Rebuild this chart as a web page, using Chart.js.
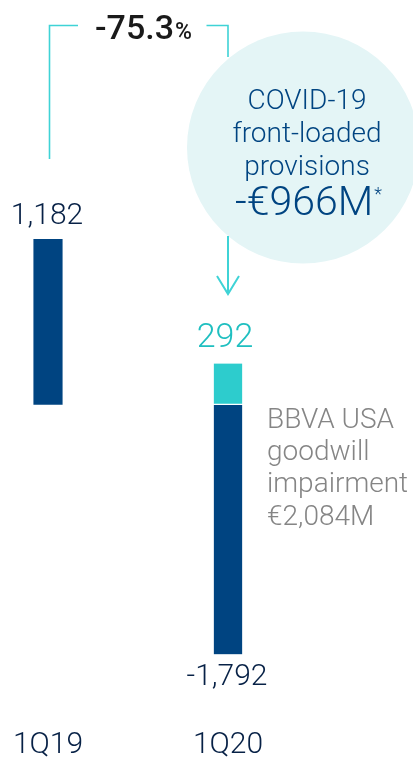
<!DOCTYPE html>
<html>
<head>
<meta charset="utf-8">
<script src="https://cdn.jsdelivr.net/npm/chart.js@4/dist/chart.umd.min.js"></script>
<style>
  html, body { margin: 0; padding: 0; background: #ffffff; }
  #wrap { width: 413px; height: 762px; position: relative; }
</style>
</head>
<body>
<div id="wrap"><canvas id="c" width="413" height="762"></canvas></div>
<script>
// ---- data ----
const categories = ['1Q19', '1Q20'];
const netProfit = [1182, -1792];          // dark navy bars
const excludingGoodwill = [null, 292];    // teal segment
const changeLabel = '-75.3';
const covidLines = ['COVID-19', 'front-loaded', 'provisions'];
const covidAmount = '-€966M';
const goodwillLines = ['BBVA USA', 'goodwill', 'impairment', '€2,084M'];

const NAVY = '#004481';
const DARK = '#072146';
const TEAL = '#2dcccd';
const LINE = '#3fd3d6';
const FONT = 'Roboto, "Open Sans", sans-serif';

const fmt = v => (v < 0 ? '-' : '') + Math.abs(v).toLocaleString('en-US');

const decorPlugin = {
  id: 'decor',
  beforeDatasetsDraw(chart) {
    const ctx = chart.ctx;
    const x = chart.scales.x;
    const x0 = x.getPixelForValue(0);
    const x1 = x.getPixelForValue(1);
    ctx.save();
    // circle
    ctx.fillStyle = '#e4f5f6';
    ctx.beginPath();
    ctx.arc(303, 147.5, 116, 0, Math.PI * 2);
    ctx.fill();
    // bracket
    ctx.strokeStyle = LINE;
    ctx.lineWidth = 1.6;
    ctx.beginPath();
    ctx.moveTo(x0 + 1.5, 159);
    ctx.lineTo(x0 + 1.5, 25.5);
    ctx.lineTo(78, 25.5);
    ctx.moveTo(206.5, 25.5);
    ctx.lineTo(x1, 25.5);
    ctx.lineTo(x1, 57);
    ctx.stroke();
    // arrow
    ctx.lineWidth = 2;
    ctx.beginPath();
    ctx.moveTo(x1, 236);
    ctx.lineTo(x1, 294);
    ctx.moveTo(x1 - 11, 276);
    ctx.lineTo(x1, 294);
    ctx.lineTo(x1 + 11, 276);
    ctx.stroke();
    // -75.3%
    ctx.fillStyle = '#1a1a1a';
    ctx.textBaseline = 'alphabetic';
    ctx.textAlign = 'left';
    ctx.font = '500 34px ' + FONT;
    const w1 = ctx.measureText(changeLabel).width;
    ctx.font = '500 23px ' + FONT;
    const w2 = ctx.measureText('%').width;
    const sx = 143 - (w1 + w2) / 2;
    ctx.font = '500 34px ' + FONT;
    ctx.fillText(changeLabel, sx, 38.5);
    ctx.font = '500 23px ' + FONT;
    ctx.fillText('%', sx + w1 + 1, 38.5);
    // circle text
    ctx.fillStyle = NAVY;
    ctx.textAlign = 'center';
    ctx.font = '300 28px ' + FONT;
    const base = [108.5, 141.5, 175];
    covidLines.forEach((t, i) => ctx.fillText(t, 307, base[i]));
    ctx.font = '300 41px ' + FONT;
    const wa = ctx.measureText(covidAmount).width;
    ctx.font = '300 18px ' + FONT;
    const wb = ctx.measureText('*').width;
    const ax = 308 - (wa + wb) / 2;
    ctx.textAlign = 'left';
    ctx.font = '300 41px ' + FONT;
    ctx.fillText(covidAmount, ax, 215);
    ctx.font = '300 18px ' + FONT;
    ctx.fillText('*', ax + wa + 1, 200);
    // goodwill note
    ctx.fillStyle = '#858585';
    ctx.font = '300 28px ' + FONT;
    ctx.textAlign = 'left';
    const gb = [428, 460, 492, 524.5];
    goodwillLines.forEach((t, i) => ctx.fillText(t, 267, gb[i]));
    ctx.restore();
  },
  afterDatasetsDraw(chart) {
    const ctx = chart.ctx;
    const m0 = chart.getDatasetMeta(0).data;
    const m1 = chart.getDatasetMeta(1).data;
    ctx.save();
    ctx.textAlign = 'center';
    ctx.textBaseline = 'alphabetic';
    // 1Q19 value
    ctx.fillStyle = DARK;
    ctx.font = '300 30px ' + FONT;
    ctx.fillText(fmt(netProfit[0]), m0[0].x - 1, m0[0].y - 15.5);
    // 1Q20 teal value
    ctx.fillStyle = '#1fbfc0';
    ctx.font = '300 34px ' + FONT;
    ctx.fillText(fmt(excludingGoodwill[1]), m1[1].x - 3, m1[1].y - 17);
    // 1Q20 net value
    ctx.fillStyle = DARK;
    ctx.font = '300 30px ' + FONT;
    ctx.fillText(fmt(netProfit[1]), m0[1].x - 1, m0[1].y + 30.5);
    ctx.restore();
  }
};

new Chart(document.getElementById('c'), {
  type: 'bar',
  data: {
    labels: categories,
    datasets: [
      {
        data: netProfit,
        backgroundColor: NAVY,
        barThickness: 28.5,
        clip: false,
        borderWidth: ctx => (ctx.raw < 0 ? { top: 1, right: 0, bottom: 0, left: 0 } : 0),
        borderColor: '#ffffff',
        borderSkipped: false
      },
      {
        data: excludingGoodwill,
        backgroundColor: TEAL,
        barThickness: 28.5,
        clip: false,
        borderWidth: { top: 0, right: 0, bottom: 1, left: 0 },
        borderColor: '#ffffff',
        borderSkipped: false
      }
    ]
  },
  options: {
    responsive: false,
    animation: false,
    events: [],
    layout: { padding: { left: 48, right: 185, top: 125.3, bottom: 0 } },
    plugins: { legend: { display: false }, tooltip: { enabled: false } },
    scales: {
      x: {
        stacked: true,
        offset: false,
        grid: { display: false, drawTicks: false },
        border: { display: false },
        ticks: { color: DARK, padding: 2, font: { family: FONT, size: 30, weight: 300, lineHeight: 1 } }
      },
      y: {
        stacked: true,
        display: false,
        min: -2320,
        max: 2000
      }
    }
  },
  plugins: [decorPlugin]
});
</script>
</body>
</html>
